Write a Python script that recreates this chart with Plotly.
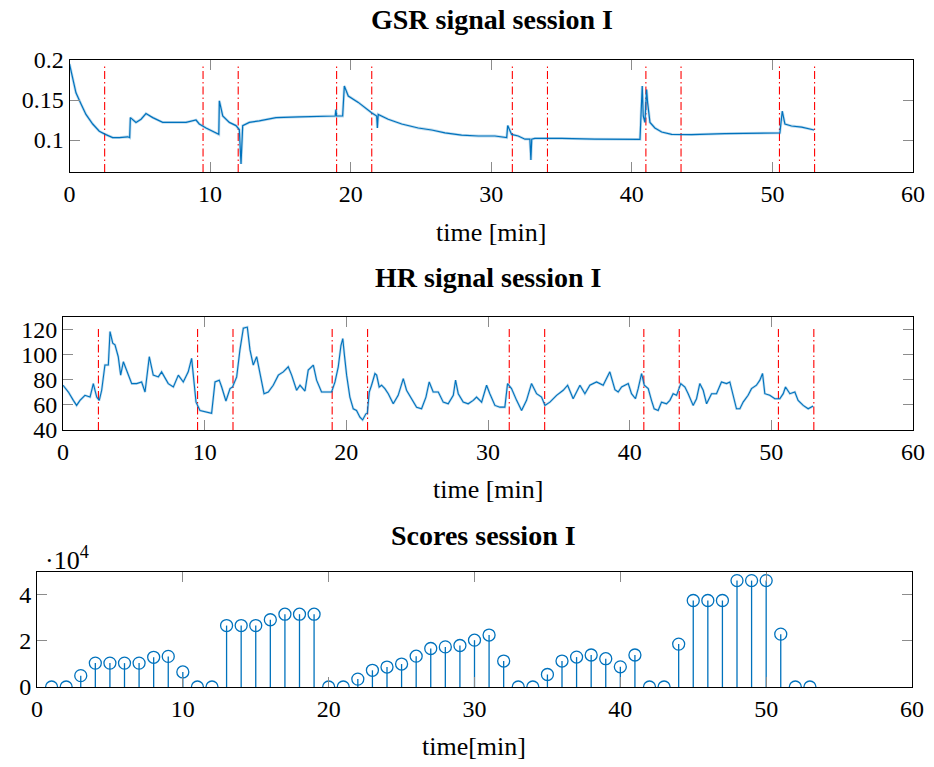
import plotly.graph_objects as go

# ---------------- data ----------------
# GSR signal (time in minutes, conductance)
gsr_t = [0.0, 0.23, 0.46, 0.82, 1.17, 1.65, 2.12, 2.55, 3.07, 3.54, 4.14, 4.28, 4.33, 4.73,
         5.09, 5.44, 5.92, 6.63, 7.57, 8.29, 9.0, 9.23, 9.71, 10.54, 10.62, 10.66, 10.9,
         11.37, 11.84, 12.08, 12.2, 12.32, 12.79, 13.5, 14.69, 16.34, 18.24, 18.9, 18.95,
         19.0, 19.43, 19.55, 19.83, 20.54, 21.49, 21.85, 21.9, 21.96, 22.67, 23.63, 24.81,
         25.76, 26.71, 27.89, 29.08, 30.26, 31.1, 31.17, 31.45, 31.92, 32.4, 32.75, 32.82,
         32.88, 33.1, 35.0, 37.37, 39.86, 40.58, 40.74, 40.81, 40.93, 41.05, 41.12, 41.29,
         41.64, 42.12, 42.83, 44.25, 46.62, 48.99, 50.53, 50.7, 50.89, 51.36, 52.08, 52.97]
gsr_v = [0.195, 0.176, 0.159, 0.145, 0.132, 0.120, 0.111, 0.107, 0.103, 0.103, 0.104, 0.103,
         0.128, 0.122, 0.126, 0.133, 0.128, 0.122, 0.122, 0.122, 0.125, 0.120, 0.115, 0.107,
         0.107, 0.149, 0.130, 0.122, 0.118, 0.113, 0.070, 0.118, 0.122, 0.124, 0.128, 0.129,
         0.130, 0.130, 0.138, 0.130, 0.130, 0.1675, 0.155, 0.147, 0.134, 0.130, 0.115, 0.132,
         0.126, 0.120, 0.115, 0.1125, 0.109, 0.106, 0.105, 0.105, 0.103, 0.118, 0.107, 0.105,
         0.101, 0.101, 0.075, 0.101, 0.102, 0.102, 0.101, 0.101, 0.1008, 0.1675, 0.130, 0.122,
         0.163, 0.147, 0.122, 0.115, 0.110, 0.107, 0.1067, 0.108, 0.109, 0.109, 0.136, 0.120,
         0.1175, 0.116, 0.1125]

# Heart-rate signal (time in minutes, bpm)
hr_t = [0.0, 0.38, 0.73, 0.96, 1.2, 1.55, 1.91, 2.14, 2.38, 2.56, 2.73, 2.96, 3.2, 3.32,
        3.51, 3.67, 3.9, 4.07, 4.26, 4.49, 4.85, 5.2, 5.55, 5.79, 6.09, 6.37, 6.73, 6.96,
        7.2, 7.43, 7.79, 8.14, 8.49, 8.84, 9.08, 9.2, 9.39, 9.67, 10.14, 10.49, 10.73,
        11.03, 11.2, 11.5, 11.79, 11.97, 12.26, 12.49, 12.73, 13.01, 13.2, 13.43, 13.67,
        13.9, 14.19, 14.49, 14.84, 15.2, 15.55, 15.9, 16.14, 16.49, 16.73, 17.08, 17.31,
        17.67, 17.9, 18.25, 18.61, 18.96, 19.2, 19.43, 19.62, 19.75, 19.86, 20.02, 20.25,
        20.49, 20.72, 20.96, 21.15, 21.38, 21.48, 21.62, 21.78, 22.02, 22.14, 22.32, 22.49,
        22.72, 22.96, 23.31, 23.66, 24.02, 24.25, 24.61, 24.96, 25.31, 25.62, 25.85, 26.13,
        26.49, 26.84, 27.19, 27.55, 27.71, 27.9, 28.25, 28.6, 28.96, 29.19, 29.55, 29.9,
        30.13, 30.49, 30.84, 31.19, 31.38, 31.66, 32.02, 32.37, 32.72, 33.07, 33.43, 33.78,
        34.02, 34.37, 34.84, 35.31, 35.62, 36.01, 36.49, 36.84, 37.19, 37.66, 38.13, 38.6,
        38.96, 39.19, 39.43, 39.66, 39.9, 40.13, 40.41, 40.6, 40.84, 41.03, 41.31, 41.54,
        41.73, 42.01, 42.25, 42.6, 42.84, 43.07, 43.31, 43.61, 43.9, 44.13, 44.48, 44.72,
        44.95, 45.19, 45.43, 45.78, 46.13, 46.48, 46.84, 47.07, 47.31, 47.54, 47.78, 48.01,
        48.36, 48.6, 48.95, 49.19, 49.38, 49.54, 49.89, 50.25, 50.6, 50.84, 51.0, 51.31,
        51.66, 51.89, 52.25, 52.6, 52.95]
hr_v = [75.5, 70.1, 63.5, 59.5, 63.5, 67.5, 66.1, 76.8, 66.1, 63.5, 71.5, 91.5, 91.5, 118.1,
        108.8, 107.5, 98.1, 83.5, 94.1, 87.5, 76.8, 76.8, 78.1, 70.1, 98.1, 83.5, 82.1, 86.1,
        80.8, 76.8, 74.1, 83.5, 78.1, 86.1, 96.8, 84.8, 62.1, 55.5, 54.1, 53.3, 78.1, 79.5,
        74.1, 63.0, 72.8, 74.1, 82.1, 103.5, 120.8, 121.6, 103.5, 91.5, 98.1, 84.8, 68.8,
        70.1, 75.5, 83.5, 86.1, 90.1, 83.5, 71.5, 75.5, 70.9, 87.5, 91.5, 79.5, 70.1, 70.1,
        70.1, 78.1, 90.1, 107.0, 112.5, 100.0, 83.5, 66.1, 56.8, 55.5, 50.1, 48.0, 52.8,
        53.3, 70.1, 75.5, 84.8, 83.5, 74.1, 75.5, 72.8, 68.8, 60.8, 67.5, 80.8, 71.5, 64.8,
        58.1, 56.8, 66.1, 78.1, 70.1, 70.1, 62.1, 60.8, 67.5, 79.5, 68.8, 62.1, 60.8, 63.5,
        66.1, 62.1, 75.5, 68.8, 59.5, 58.1, 58.1, 76.8, 72.8, 63.5, 55.5, 63.5, 76.8, 68.8,
        66.1, 59.5, 62.1, 67.5, 71.5, 75.5, 64.8, 75.5, 68.8, 75.5, 78.1, 75.5, 86.1, 72.0,
        70.1, 74.1, 75.5, 76.8, 68.8, 64.8, 72.8, 84.8, 75.5, 72.8, 63.5, 56.8, 55.5, 62.1,
        60.8, 63.5, 68.8, 67.5, 76.8, 74.1, 68.8, 59.5, 64.8, 76.8, 71.5, 60.8, 68.8, 68.8,
        78.1, 76.8, 78.1, 66.1, 56.8, 56.8, 62.1, 67.5, 72.8, 75.5, 79.5, 84.8, 68.8, 67.5,
        64.8, 64.8, 68.8, 74.1, 68.8, 70.1, 63.5, 59.5, 56.8, 59.0]

# Session event markers (minutes)
event_times = [2.5, 9.5, 12.0, 19.0, 21.5, 31.5, 34.0, 41.0, 43.5, 50.5, 53.0]

# Scores, one per minute
score_t = list(range(1, 54))
score_v = [0, 0, 4900, 10300, 10300, 10300, 10300, 12800, 13200, 6500, 0, 0,
           26500, 26500, 26500, 29000, 31400, 31400, 31400, 0, 0, 3400, 7200, 8600,
           9900, 13300, 16600, 17300, 17900, 20200, 22400, 11200, 0, 0, 5400, 11200,
           12900, 13800, 12200, 8700, 13800, 0, 0, 18500, 37300, 37300, 37300, 45900,
           45900, 45900, 22800, 0, 0]

x_ticks = [0, 10, 20, 30, 40, 50, 60]
gsr_ticks = [0.1, 0.15, 0.2]
hr_ticks = [40, 60, 80, 100, 120]
score_ticks = [0, 20000, 40000]
score_ticktext = ["0", "2", "4"]

# ---------------- styling ----------------
W, H = 934, 767
BLUE = "#0072BD"
HALO = "rgba(0,114,189,0.25)"
FONT = "Liberation Serif"
FS = 24
DASHDOT = "8px,3px,1.5px,3px"


def xdom(a, b):
    return [a / W, b / W]


def ydom(top, bottom):
    return [1 - bottom / H, 1 - top / H]


def vlines(xs, y0, y1):
    vx, vy = [], []
    for x in xs:
        vx += [x, x, None]
        vy += [y0, y1, None]
    return vx, vy


fig = go.Figure()

# GSR panel
ex, ey = vlines(event_times, 0.06, 0.1945)
fig.add_trace(go.Scatter(x=ex, y=ey, mode="lines", xaxis="x", yaxis="y",
                         line=dict(color="red", width=1.1, dash=DASHDOT)))
fig.add_trace(go.Scatter(x=gsr_t, y=gsr_v, mode="lines", xaxis="x", yaxis="y",
                         line=dict(color=HALO, width=2.8)))
fig.add_trace(go.Scatter(x=gsr_t, y=gsr_v, mode="lines", xaxis="x", yaxis="y",
                         line=dict(color=BLUE, width=1.2)))

# HR panel
ex, ey = vlines(event_times, 40, 121)
fig.add_trace(go.Scatter(x=ex, y=ey, mode="lines", xaxis="x2", yaxis="y2",
                         line=dict(color="red", width=1.1, dash=DASHDOT)))
fig.add_trace(go.Scatter(x=hr_t, y=hr_v, mode="lines", xaxis="x2", yaxis="y2",
                         line=dict(color=HALO, width=2.5)))
fig.add_trace(go.Scatter(x=hr_t, y=hr_v, mode="lines", xaxis="x2", yaxis="y2",
                         line=dict(color=BLUE, width=1.1)))

# Scores panel: stems + open circles
sx, sy = [], []
for t, v in zip(score_t, score_v):
    sx += [t, t, None]
    sy += [0, v, None]
fig.add_trace(go.Scatter(x=sx, y=sy, mode="lines", xaxis="x3", yaxis="y3",
                         line=dict(color=BLUE, width=1.3)))
fig.add_trace(go.Scatter(x=score_t, y=score_v, mode="markers", xaxis="x3", yaxis="y3",
                         marker=dict(symbol="circle-open", size=12, color=BLUE,
                                     line=dict(width=1.3, color=BLUE))))

axis_common = dict(showline=True, linecolor="black", linewidth=1, mirror="ticks",
                   ticks="inside", ticklen=10, tickwidth=1, tickcolor="#8c8c8c",
                   showgrid=False, zeroline=False, automargin=False,
                   tickfont=dict(family=FONT, size=FS, color="black"))

fig.update_layout(
    width=W, height=H, autosize=False,
    margin=dict(l=0, r=0, t=0, b=0, pad=0, autoexpand=False),
    paper_bgcolor="white", plot_bgcolor="white", showlegend=False,
    xaxis=dict(domain=xdom(69.5, 913), range=[0, 60], tickvals=x_ticks, anchor="y", **axis_common),
    yaxis=dict(domain=ydom(60, 172), range=[0.06, 0.2], tickvals=gsr_ticks,
               ticktext=["0.1", "0.15", "0.2"], anchor="x", **axis_common),
    xaxis2=dict(domain=xdom(63, 913), range=[0, 60], tickvals=x_ticks, anchor="y2", **axis_common),
    yaxis2=dict(domain=ydom(317, 430), range=[40, 129.6], tickvals=hr_ticks, anchor="x2", **axis_common),
    xaxis3=dict(domain=xdom(37, 912), range=[0, 60], tickvals=x_ticks, anchor="y3", **axis_common),
    yaxis3=dict(domain=ydom(572, 687), range=[0, 49600], tickvals=score_ticks,
                ticktext=score_ticktext, anchor="x3", **axis_common),
)


def label(text, x, y, size=FS, bold=False):
    fig.add_annotation(text=f"<b>{text}</b>" if bold else text, x=x / W, y=1 - y / H,
                       xref="paper", yref="paper", showarrow=False,
                       xanchor="center", yanchor="middle",
                       font=dict(family=FONT, size=size, color="black"))


label("GSR signal session I", 492, 20, size=28, bold=True)
label("HR signal session I", 488, 277, size=28, bold=True)
label("Scores session I", 483, 535, size=28, bold=True)
label("time [min]", 491, 232, size=26)
label("time [min]", 488, 489, size=26)
label("time[min]", 474, 746, size=26)
fig.add_annotation(text="·10<sup>4</sup>", x=43 / W, y=1 - 558 / H, xref="paper", yref="paper",
                   showarrow=False, xanchor="left", yanchor="middle",
                   font=dict(family=FONT, size=26, color="black"))

fig.write_html("out.html",
               post_script="document.body.style.margin='0';document.body.style.overflow='hidden';")
